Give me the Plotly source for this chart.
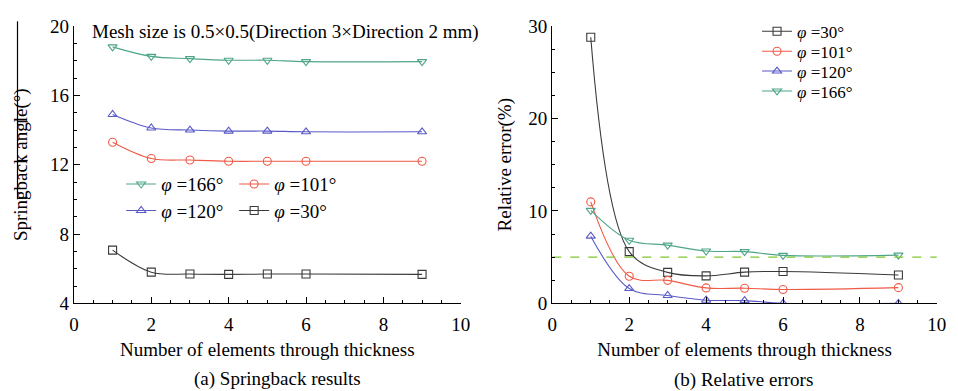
import plotly.graph_objects as go
from plotly.subplots import make_subplots

# Number of elements through thickness
elements = [1, 2, 3, 4, 5, 6, 9]

# (a) springback angle (deg) for each bending angle phi
spring_166 = [18.80, 18.25, 18.12, 18.03, 18.03, 17.95, 17.95]
spring_120 = [14.90, 14.12, 14.00, 13.94, 13.94, 13.90, 13.90]
spring_101 = [13.30, 12.36, 12.27, 12.20, 12.20, 12.20, 12.20]
spring_30 = [7.07, 5.80, 5.69, 5.67, 5.69, 5.69, 5.67]

# (b) relative error (%) for each bending angle phi
err_30 = [28.8, 5.6, 3.35, 2.97, 3.38, 3.45, 3.07]
err_101 = [10.98, 2.93, 2.49, 1.67, 1.64, 1.50, 1.70]
err_120 = [7.27, 1.60, 0.85, 0.34, 0.30, 0.0, 0.0]
err_166 = [10.06, 6.83, 6.30, 5.66, 5.60, 5.19, 5.22]
err_limit = 5.0

labels = {"30": "<i>φ</i> =30°", "101": "<i>φ</i> =101°",
          "120": "<i>φ</i> =120°", "166": "<i>φ</i> =166°"}
colors = {"30": "#3a3a3a", "101": "#f05a46", "120": "#5a5ac8", "166": "#4fa58a"}
symbols = {"30": "square-open", "101": "circle-open",
           "120": "triangle-up-open", "166": "triangle-down-open"}

FONT = "Liberation Serif, Times New Roman, serif"

fig = make_subplots(rows=1, cols=2)


def add(x, y, key, col, legend):
    fig.add_trace(go.Scatter(
        x=x, y=y, name=labels[key], mode="lines+markers",
        line=dict(color=colors[key], width=1.1, shape="spline"),
        marker=dict(symbol=symbols[key], size=8, color=colors[key],
                    line=dict(width=1.1, color=colors[key])),
        legend=legend), row=1, col=col)


# left panel: legend rows of two entries each
add(elements, spring_166, "166", 1, "legend")
add(elements, spring_101, "101", 1, "legend")
add(elements, spring_120, "120", 1, "legend2")
add(elements, spring_30, "30", 1, "legend2")

# right panel: one entry per legend row
add(elements, err_30, "30", 2, "legend3")
add(elements, err_101, "101", 2, "legend4")
add(elements, err_120, "120", 2, "legend5")
add(elements, err_166, "166", 2, "legend6")

# 5 % reference line
fig.add_trace(go.Scatter(x=[0, 10], y=[err_limit, err_limit], mode="lines",
                         line=dict(color="#7cc832", width=1.2, dash="dash"),
                         showlegend=False), row=1, col=2)

H = 391.0
ydom = [(H - 310) / H, (H - 17) / H]

axis_common = dict(showline=True, linecolor="black", linewidth=1.3,
                   ticks="inside", ticklen=6, tickwidth=1.2, tickcolor="black",
                   showgrid=False, zeroline=False, mirror=False,
                   tickfont=dict(family=FONT, size=19, color="black"))

fig.update_xaxes(range=[0, 10], dtick=2, tick0=0, ticklabelstandoff=4,
                 minor=dict(dtick=0.5, ticks="inside", ticklen=3, tickcolor="black"),
                 title=dict(text="Number of elements through thickness",
                            font=dict(family=FONT, size=19, color="black"), standoff=8),
                 **axis_common)
fig.update_xaxes(domain=[70 / 958, 463 / 958], row=1, col=1)
fig.update_xaxes(domain=[556 / 958, 946.7 / 958], row=1, col=2)

fig.update_yaxes(domain=ydom, **axis_common)
fig.update_yaxes(range=[4, 20], dtick=4, tick0=4,
                 minor=dict(dtick=1, ticks="inside", ticklen=3, tickcolor="black"),
                 title=dict(text="Springback angle(°)",
                            font=dict(family=FONT, size=19, color="black"), standoff=17),
                 row=1, col=1)
fig.update_yaxes(range=[0, 30], dtick=10, tick0=0,
                 minor=dict(dtick=2.5, ticks="inside", ticklen=3, tickcolor="black"),
                 title=dict(text="Relative error(%)",
                            font=dict(family=FONT, size=19, color="black"), standoff=11),
                 row=1, col=2)

leg_common = dict(bgcolor="rgba(0,0,0,0)", borderwidth=0,
                  xanchor="left", yanchor="middle", itemclick=False)
big = dict(family=FONT, size=19, color="black")
small = dict(family=FONT, size=17, color="black")


def ypx(px):
    return (H - px) / H


fig.update_layout(
    width=958, height=391, margin=dict(l=0, r=0, t=0, b=0),
    paper_bgcolor="white", plot_bgcolor="white", showlegend=True,
    legend=dict(x=118 / 958, y=ypx(184), orientation="h", font=big,
                entrywidth=68, entrywidthmode="pixels", **leg_common),
    legend2=dict(x=118 / 958, y=ypx(212), orientation="h", font=big,
                 entrywidth=68, entrywidthmode="pixels", **leg_common),
    legend3=dict(x=764 / 958, y=ypx(23), font=small, **leg_common),
    legend4=dict(x=764 / 958, y=ypx(44), font=small, **leg_common),
    legend5=dict(x=764 / 958, y=ypx(65), font=small, **leg_common),
    legend6=dict(x=764 / 958, y=ypx(86), font=small, **leg_common),
)

# panel note and captions
fig.add_annotation(x=86 / 958, y=ypx(23), xref="paper", yref="paper",
                   xanchor="left", yanchor="middle", showarrow=False,
                   text="Mesh size is 0.5×0.5(Direction 3×Direction 2 mm)",
                   font=big)
fig.add_annotation(x=277 / 958, y=ypx(390), xref="paper", yref="paper",
                   xanchor="center", yanchor="middle", showarrow=False,
                   text="(a) Springback results", font=big)
fig.add_annotation(x=750 / 958, y=ypx(391), xref="paper", yref="paper",
                   xanchor="center", yanchor="middle", showarrow=False,
                   text="(b) Relative errors", font=big)

# thin rule lines beside the left axis title
for x0, y0, x1, y1 in [(12.7, 12, 12.7, 200), (12.7, 118, 23, 118),
                       (12.7, 159, 23, 159), (12.7, 199, 23, 199)]:
    fig.add_shape(type="line", xref="paper", yref="paper",
                  x0=x0 / 958, x1=x1 / 958, y0=ypx(y0), y1=ypx(y1),
                  line=dict(color="black", width=1.2))

fig.write_html("out.html")
